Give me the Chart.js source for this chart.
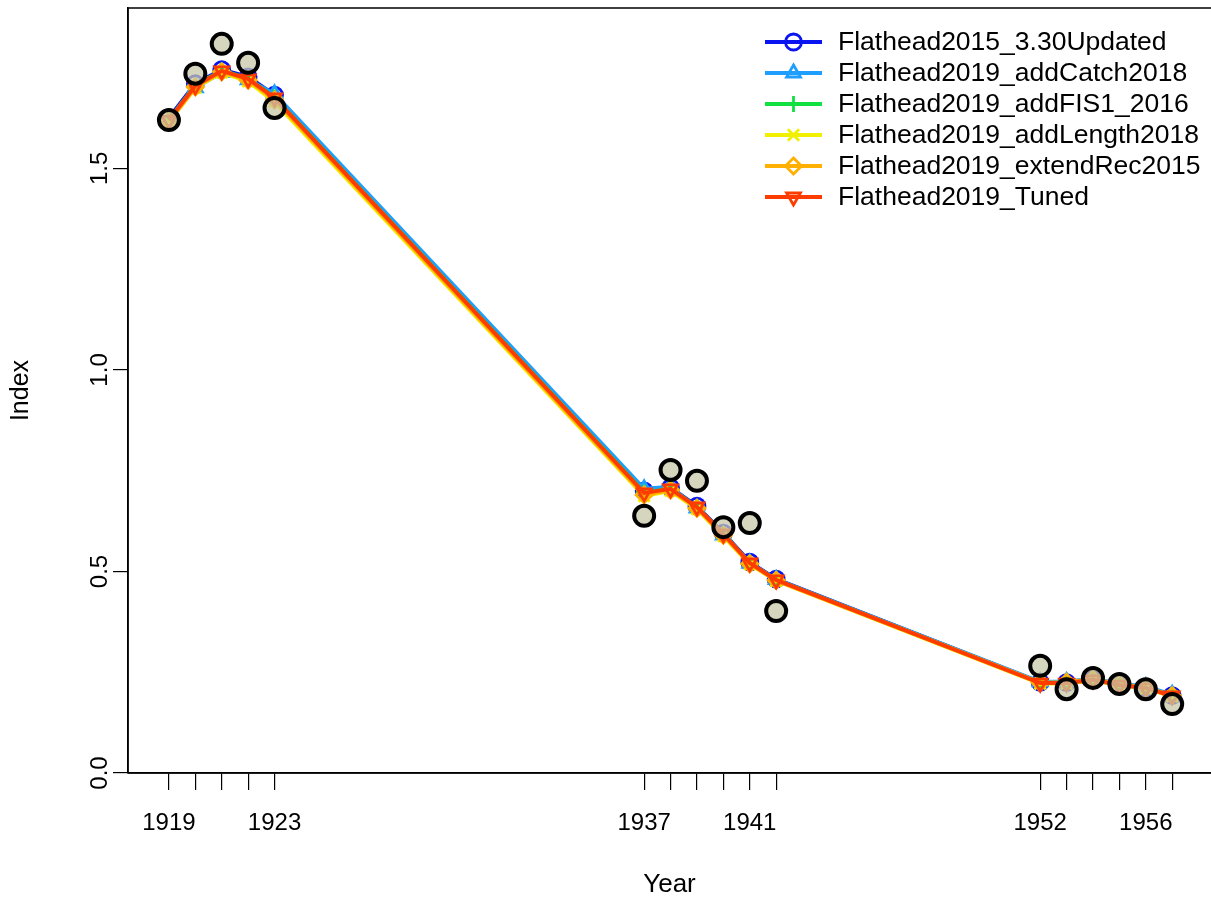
<!DOCTYPE html>
<html>
<head>
<meta charset="utf-8">
<title>Index fits</title>
<script src="https://cdn.jsdelivr.net/npm/chart.js@4.4.1/dist/chart.umd.min.js"></script>
<style>
  html, body { margin: 0; padding: 0; background: #fff; }
  #wrap { width: 1211px; height: 899px; }
</style>
</head>
<body>
<div id="wrap"><canvas id="grafico" width="1211" height="899"></canvas></div>
<script>
// survey years (gaps between blocks are real)
var years = [1919, 1920, 1921, 1922, 1923, 1937, 1938, 1939, 1940, 1941, 1942, 1952, 1953, 1954, 1955, 1956, 1957];
var yearLabels = [1919, 1923, 1937, 1941, 1952, 1956];
var yTicks = [0, 0.5, 1.0, 1.5];

// observed index
var observado = [1.620, 1.735, 1.809, 1.762, 1.650, 0.638, 0.752, 0.725, 0.610, 0.620, 0.402, 0.266, 0.208, 0.236, 0.221, 0.208, 0.171];

// expected index for each model run
var updated2015  = [1.625, 1.710, 1.745, 1.727, 1.682, 0.700, 0.708, 0.662, 0.595, 0.523, 0.481, 0.225, 0.224, 0.232, 0.219, 0.212, 0.192];
var addCatch2018 = [1.618, 1.700, 1.738, 1.720, 1.685, 0.705, 0.710, 0.657, 0.590, 0.520, 0.480, 0.226, 0.227, 0.234, 0.222, 0.214, 0.195];
var addFIS1      = [1.621, 1.706, 1.743, 1.723, 1.676, 0.696, 0.705, 0.660, 0.593, 0.521, 0.479, 0.223, 0.223, 0.231, 0.218, 0.211, 0.191];
var addLength    = [1.615, 1.700, 1.738, 1.716, 1.665, 0.687, 0.700, 0.655, 0.588, 0.518, 0.477, 0.222, 0.222, 0.230, 0.218, 0.210, 0.190];
var extendRec    = [1.617, 1.702, 1.740, 1.719, 1.670, 0.690, 0.702, 0.657, 0.590, 0.519, 0.478, 0.224, 0.225, 0.233, 0.220, 0.212, 0.192];
var tuned        = [1.620, 1.705, 1.742, 1.722, 1.675, 0.695, 0.705, 0.660, 0.593, 0.521, 0.479, 0.223, 0.223, 0.231, 0.218, 0.211, 0.191];

var nombres = ["Flathead2015_3.30Updated", "Flathead2019_addCatch2018", "Flathead2019_addFIS1_2016",
               "Flathead2019_addLength2018", "Flathead2019_extendRec2015", "Flathead2019_Tuned"];
var colores = ["#0a14f0", "#1e9eff", "#12e040", "#f0f000", "#ffb000", "#ff3c00"];
var simbolos = ["circle", "triangle", "cross", "crossRot", "rectRot", "triangle"];
var giros = [0, 0, 0, 0, 0, 180];
var modelos = [updated2015, addCatch2018, addFIS1, addLength, extendRec, tuned];

var FONT = "'Liberation Sans', Arial, sans-serif";

function pares(vals) {
    return years.map(function (y, i) { return { x: y, y: vals[i] }; });
}

var datasets = [];
for (var k = 0; k < modelos.length; k++) {
    datasets.push({
        label: nombres[k],
        data: pares(modelos[k]),
        borderColor: colores[k],
        backgroundColor: colores[k],
        borderWidth: 4,
        pointStyle: simbolos[k],
        pointRotation: giros[k],
        pointRadius: 8,
        pointBorderWidth: 2.8,
        pointBackgroundColor: "rgba(0,0,0,0)",
        pointBorderColor: colores[k],
        tension: 0,
        clip: false,
        order: 6 - k
    });
}
// observed points drawn on top
datasets.push({
    label: "obs",
    data: pares(observado),
    showLine: false,
    pointStyle: "circle",
    pointRadius: 10,
    pointBorderWidth: 4,
    pointBorderColor: "#000",
    pointBackgroundColor: "rgba(200,200,168,0.74)",
    clip: false,
    order: 0
});

// box, rotated y labels and legend inside the plot
var extras = {
    id: "extras",
    afterDraw: function (chart) {
        var ctx = chart.ctx, a = chart.chartArea;
        ctx.save();
        ctx.strokeStyle = "#000";
        ctx.lineWidth = 1.5;
        ctx.beginPath();
        ctx.moveTo(a.left, a.bottom);
        ctx.lineTo(a.left, a.top);
        ctx.lineTo(a.right + 2, a.top);
        ctx.moveTo(a.left, a.bottom);
        ctx.lineTo(a.right + 2, a.bottom);
        ctx.stroke();

        // y tick labels, read bottom to top
        var ys = chart.scales.y;
        ctx.fillStyle = "#000";
        ctx.font = "24px " + FONT;
        ctx.textAlign = "center";
        ctx.textBaseline = "middle";
        yTicks.forEach(function (v) {
            ctx.save();
            ctx.translate(100, ys.getPixelForValue(v));
            ctx.rotate(-Math.PI / 2);
            ctx.fillText(v.toFixed(1), 0, 0);
            ctx.restore();
        });

        // legend
        var x0 = 765, x1 = 822, y0 = 42, paso = 31;
        ctx.font = "26.5px " + FONT;
        ctx.textAlign = "left";
        for (var i = 0; i < nombres.length; i++) {
            var yy = y0 + i * paso;
            ctx.strokeStyle = colores[i];
            ctx.lineWidth = 4;
            ctx.beginPath();
            ctx.moveTo(x0, yy);
            ctx.lineTo(x1, yy);
            ctx.stroke();
            ctx.fillStyle = "rgba(0,0,0,0)";
            ctx.lineWidth = 2.8;
            Chart.helpers.drawPoint(ctx, {
                pointStyle: simbolos[i],
                rotation: giros[i],
                radius: 8,
                borderWidth: 2.8
            }, (x0 + x1) / 2, yy);
            ctx.fillStyle = "#000";
            ctx.fillText(nombres[i], 838, yy + 1);
        }
        ctx.restore();
    }
};

var chart = new Chart(document.getElementById("grafico"), {
    type: "line",
    data: { datasets: datasets },
    options: {
        responsive: false,
        animation: false,
        layout: { autoPadding: false, padding: { top: 8, right: 0, left: 0, bottom: 0 } },
        plugins: { legend: { display: false }, tooltip: { enabled: false } },
        scales: {
            x: {
                type: "linear",
                min: 1917.45,
                max: 1958.47,
                afterFit: function (s) {
                    s.height = 126;
                    s.paddingLeft = 0; s.paddingRight = 0;
                },
                afterBuildTicks: function (s) {
                    s.ticks = years.map(function (y) { return { value: y }; });
                },
                ticks: {
                    autoSkip: false,
                    maxRotation: 0,
                    padding: 19,
                    color: "#000",
                    font: { family: FONT, size: 24 },
                    callback: function (v) { return yearLabels.indexOf(v) >= 0 ? String(v) : ""; }
                },
                grid: { drawOnChartArea: false, drawTicks: true, tickLength: 17, color: "#000", lineWidth: 1.2 },
                border: { display: true, color: "#000", width: 1.5 },
                title: { display: true, text: "Year", color: "#000", font: { family: FONT, size: 26, lineHeight: 1 }, padding: { top: 0, bottom: 1 } }
            },
            y: {
                min: 0,
                max: 1.898,
                afterFit: function (s) {
                    s.width = 128;
                    s.paddingTop = 0; s.paddingBottom = 0;
                },
                afterBuildTicks: function (s) {
                    s.ticks = yTicks.map(function (v) { return { value: v }; });
                },
                ticks: { display: false },
                grid: { drawOnChartArea: false, drawTicks: true, tickLength: 15, color: "#000", lineWidth: 1.2 },
                border: { display: true, color: "#000", width: 1.5 },
                title: { display: true, text: "Index", color: "#000", font: { family: FONT, size: 25 }, padding: { top: 6, bottom: 0 } }
            }
        }
    },
    plugins: [extras]
});
</script>
</body>
</html>
